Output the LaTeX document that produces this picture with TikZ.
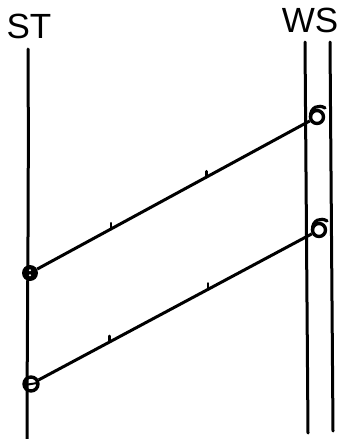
\documentclass[tikz,border=0pt]{standalone}
\usepackage{fontspec}
\setmainfont{Liberation Sans}
\usetikzlibrary{calc}
\begin{document}
\begin{tikzpicture}[x=1pt,y=-1pt,
  life/.style={line width=3pt, line cap=round},
  msg/.style={line width=3pt},
  tickmark/.style={line width=2.6pt, line cap=round},
  lbl/.style={font=\fontsize{35}{40}\selectfont, inner sep=0pt, anchor=base},
  stfull/.style={circle, fill=black, minimum size=16pt, inner sep=0pt},
  stopen/.style={circle, draw, line width=3.4pt, minimum size=14pt, inner sep=0pt},
  wsend/.style={circle, draw, line width=3.4pt, minimum size=13pt, inner sep=0pt},
  sixtail/.style={line width=3.2pt, line cap=round}]
\useasboundingbox (0,0) rectangle (340,439);
% labels
\node[lbl] (st) at (29,38) {ST};
\node[lbl] (ws) at (310,32) {WS};
% lifelines
\coordinate (stTop) at (28,49);
\coordinate (stBot) at (27,439);
\coordinate (wsAtop) at (305,42);
\coordinate (wsAbot) at (308,433);
\coordinate (wsBtop) at (330,42);
\coordinate (wsBbot) at (333,431);
\draw[life] (stTop) .. controls (29,200) and (27,330) .. (stBot);
\draw[life] (wsAtop) -- (wsAbot);
\draw[life] (wsBtop) -- (wsBbot);
% end points
\node[stfull] (st1) at (30,273) {};
\fill[white] ($(st1.center)+(0,-2.8)$) circle (1.2pt) ($(st1.center)+(0,2.2)$) circle (1.2pt);
\node[stopen] (st2) at (31,384) {};
\draw[line width=2pt] ($(st2.center)+(-5,0.8)$) -- ($(st2.center)+(5,-0.8)$);
\node[wsend] (ws1) at (317,117) {};
\node[wsend] (ws2) at (319,230) {};
\draw[sixtail] ($(ws1.center)+(-6.5,0)$) .. controls ($(ws1.center)+(-7,-10)$) and ($(ws1.center)+(2,-13)$) .. ($(ws1.center)+(8,-9)$);
\draw[sixtail] ($(ws2.center)+(-6.5,0)$) .. controls ($(ws2.center)+(-7,-10)$) and ($(ws2.center)+(2,-13)$) .. ($(ws2.center)+(8,-9)$);
% messages
\draw[msg] (st1) -- (ws1);
\draw[msg] (st2) -- (ws2);
% tick marks
\path (st1) -- coordinate[pos=0.27] (m1a) coordinate[pos=0.62] (m1b) (ws1);
\path (st2) -- coordinate[pos=0.26] (m2a) coordinate[pos=0.62] (m2b) (ws2);
\draw[tickmark] (m1a) -- ++(0,-6);
\draw[tickmark] (m1b) -- ++(0,-6);
\draw[tickmark] (m2a) -- ++(0,-6);
\draw[tickmark] (m2b) -- ++(0,-6);
\end{tikzpicture}
\end{document}
